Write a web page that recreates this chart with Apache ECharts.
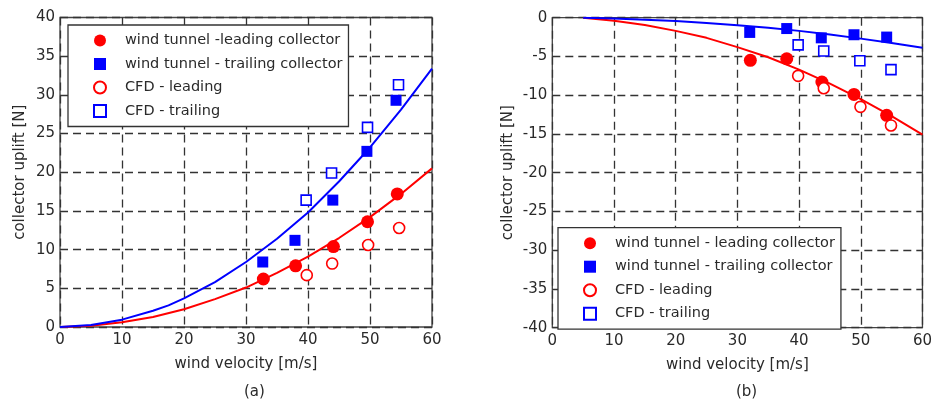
<!DOCTYPE html>
<html>
<head>
<meta charset="utf-8">
<script src="https://cdn.jsdelivr.net/npm/echarts@6/dist/echarts.min.js"></script>
<style>html,body{margin:0;padding:0;background:#fff}#c{width:935px;height:405px}</style>
</head>
<body>
<div id="c"></div>
<script>
// ---- Data ----
var xTicks = [0, 10, 20, 30, 40, 50, 60];
// (a) uplift positive
var aWtLeading  = [[32.8, 6.2], [38.0, 7.9], [44.1, 10.4], [49.6, 13.6], [54.4, 17.2]];
var aWtTrailing = [[32.7, 8.4], [37.9, 11.2], [44.0, 16.4], [49.5, 22.7], [54.2, 29.3]];
var aCfdLeading = [[39.8, 6.7], [43.9, 8.2], [49.7, 10.6], [54.7, 12.8]];
var aCfdTrailing= [[39.7, 16.4], [43.8, 19.9], [49.6, 25.8], [54.6, 31.3]];
var aFitLeading = [[0,0],[5,0.15],[10,0.6],[15,1.3],[20,2.3],[25,3.6],[30,5.1],[35,7.0],[40,9.1],[45,11.5],[50,14.2],[55,17.2],[60,20.5]];
var aFitTrailing= [[0,0],[5,0.25],[10,0.95],[15,2.1],[17.5,2.8],[20,3.7],[25,5.8],[30,8.4],[35,11.4],[40,14.8],[45,18.8],[50,23.2],[55,28.1],[60,33.4]];
// (b) uplift negative
var bWtLeading  = [[32.1, -5.5], [38.0, -5.3], [43.7, -8.3], [48.9, -9.9], [54.2, -12.6]];
var bWtTrailing = [[32.0, -1.9], [38.0, -1.4], [43.6, -2.6], [48.9, -2.2], [54.2, -2.5]];
var bCfdLeading = [[39.85, -7.5], [44.0, -9.1], [49.95, -11.5], [54.9, -13.9]];
var bCfdTrailing= [[39.85, -3.5], [44.0, -4.3], [49.85, -5.55], [54.9, -6.7]];
var bFitLeading = [[5,0],[10,-0.4],[15,-0.95],[20,-1.7],[25,-2.6],[30,-3.8],[35,-5.1],[40,-6.7],[45,-8.5],[50,-10.5],[55,-12.7],[60,-15.1]];
var bFitTrailing= [[5,0],[10,-0.1],[15,-0.25],[20,-0.43],[25,-0.67],[30,-0.97],[35,-1.3],[40,-1.7],[45,-2.18],[50,-2.7],[55,-3.25],[60,-3.87]];

var namesA = ['wind tunnel -leading collector', 'wind tunnel - trailing collector', 'CFD - leading', 'CFD - trailing'];
var namesB = ['wind tunnel - leading collector', 'wind tunnel - trailing collector', 'CFD - leading', 'CFD - trailing'];
var xTitle = 'wind velocity [m/s]';
var yTitle = 'collector uplift [N]';
var panelLabels = ['(a)', '(b)'];

// ---- Styling ----
var FONT = 'DejaVu Sans';
var FS = 15;
var TXT = '#2a2a2a';
var RED = '#ff0000', BLUE = '#0000ff';
var grids = [
  {left: 60, top: 17.5, width: 372, height: 309.5},
  {left: 552.3, top: 17.7, width: 370.4, height: 310}
];
function xAxis(i) {
  return {
    type: 'value', gridIndex: i, min: 0, max: 60, interval: 10,
    axisLine: {show: false}, axisTick: {show: false},
    axisLabel: {color: TXT, fontFamily: FONT, fontSize: FS, margin: 6},
    splitLine: {show: true, lineStyle: {color: '#333', type: [8, 5], width: 1.3}},
    name: xTitle, nameLocation: 'middle', nameGap: 30,
    nameTextStyle: {color: TXT, fontFamily: FONT, fontSize: FS}
  };
}
function yAxis(i, min, max, gap) {
  return {
    type: 'value', gridIndex: i, min: min, max: max, interval: 5,
    axisLine: {show: false}, axisTick: {show: false},
    axisLabel: {color: TXT, fontFamily: FONT, fontSize: FS, margin: 5},
    splitLine: {show: true, lineStyle: {color: '#333', type: [8, 5], width: 1.3}},
    name: yTitle, nameLocation: 'middle', nameGap: gap,
    nameTextStyle: {color: TXT, fontFamily: FONT, fontSize: FS}
  };
}
function scat(name, data, i, kind, color) {
  var filled = kind === 'fc' || kind === 'fs';
  var isCircle = kind === 'fc' || kind === 'oc';
  return {
    type: 'scatter', name: name, xAxisIndex: i, yAxisIndex: i, data: data,
    symbol: isCircle ? 'circle' : 'rect',
    symbolSize: kind === 'fc' ? 13 : kind === 'fs' ? 11 : kind === 'oc' ? 11 : 10,
    itemStyle: filled ? {color: color, opacity: 1} : {color: '#fff', borderColor: color, borderWidth: 1.6, opacity: 1},
    z: 5
  };
}
function fit(data, i, color) {
  return {
    type: 'line', xAxisIndex: i, yAxisIndex: i, data: data, showSymbol: false, symbol: 'none',
    lineStyle: {color: color, width: 2}, smooth: false, z: 4, silent: true
  };
}
function legend(names, left, top) {
  var icons = ['circle', 'rect', 'circle', 'rect'];
  return {
    left: left, top: top, orient: 'vertical',
    backgroundColor: '#fff', borderColor: '#333', borderWidth: 1.3,
    padding: [8, 6, 8, 25], itemGap: 8.5, itemWidth: 12, itemHeight: 12,
    textStyle: {color: TXT, fontFamily: FONT, fontSize: 14.5, lineHeight: 14, padding: [0, 0, 0, 14]},
    data: names.map(function (n, k) { return {name: n, icon: icons[k]}; }),
    selectedMode: false, z: 10
  };
}

var chart = echarts.init(document.getElementById('c'));
chart.setOption({
  animation: false,
  backgroundColor: '#fff',
  grid: grids.map(function (g) {
    return Object.assign({show: true, borderColor: '#444', borderWidth: 1.3, backgroundColor: 'transparent', containLabel: false}, g);
  }),
  xAxis: [xAxis(0), xAxis(1)],
  yAxis: [yAxis(0, 0, 40, 32), yAxis(1, -40, 0, 37)],
  legend: [legend(namesA, 68, 25), legend(namesB, 558, 227.7)],
  title: [
    {text: panelLabels[0], left: 244, top: 385, textStyle: {color: TXT, fontFamily: FONT, fontSize: FS, fontWeight: 'normal'}, padding: 0},
    {text: panelLabels[1], left: 736, top: 385, textStyle: {color: TXT, fontFamily: FONT, fontSize: FS, fontWeight: 'normal'}, padding: 0}
  ],
  series: [
    fit(aFitLeading, 0, RED), fit(aFitTrailing, 0, BLUE),
    scat(namesA[0], aWtLeading, 0, 'fc', RED),
    scat(namesA[1], aWtTrailing, 0, 'fs', BLUE),
    scat(namesA[2], aCfdLeading, 0, 'oc', RED),
    scat(namesA[3], aCfdTrailing, 0, 'os', BLUE),
    fit(bFitLeading, 1, RED), fit(bFitTrailing, 1, BLUE),
    scat(namesB[0], bWtLeading, 1, 'fc', RED),
    scat(namesB[1], bWtTrailing, 1, 'fs', BLUE),
    scat(namesB[2], bCfdLeading, 1, 'oc', RED),
    scat(namesB[3], bCfdTrailing, 1, 'os', BLUE)
  ]
});
</script>
</body>
</html>
